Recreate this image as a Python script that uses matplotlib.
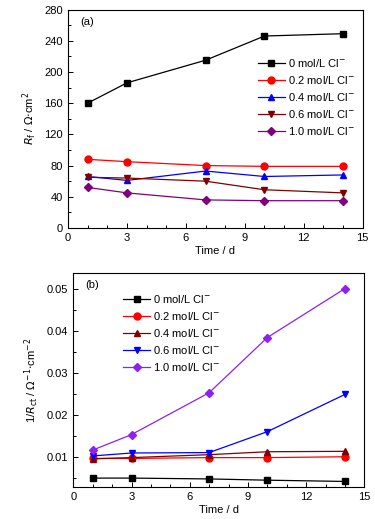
# Rf and 1/Rct vs. immersion time for different Cl- concentrations

import numpy as np
from matplotlib import pyplot as plt
from matplotlib.ticker import MultipleLocator

plt.rcParams['font.family'] = ['Liberation Sans', 'DejaVu Sans']
plt.rcParams['font.size'] = 8

#---- data

days = [1, 3, 7, 10, 14]
conc = ['0', '0.2', '0.4', '0.6', '1.0']

# (a) film resistance, ohm cm2
rf_0 = [160, 186, 215, 246, 249]
rf_02 = [88, 85, 80, 79, 79]
rf_04 = [66, 61, 73, 66, 68]
rf_06 = [65, 64, 60, 49, 45]
rf_10 = [52, 45, 36, 35, 35]

# (b) 1/Rct, ohm-1 cm-2
ict_0 = [0.0049, 0.0049, 0.0047, 0.0044, 0.0041]
ict_02 = [0.0096, 0.0096, 0.0098, 0.0098, 0.0100]
ict_04 = [0.0095, 0.0098, 0.0105, 0.0112, 0.0113]
ict_06 = [0.0102, 0.0109, 0.0110, 0.0160, 0.0249]
ict_10 = [0.0116, 0.0153, 0.0253, 0.0385, 0.0502]

#---- styling helpers

def style_axes(ax):
    ax.set_xlim(0, 15)
    ax.xaxis.set_major_locator(MultipleLocator(3))
    ax.xaxis.set_minor_locator(MultipleLocator(1))
    ax.tick_params(which='both', direction='in', top=False, right=False)
    ax.tick_params(which='major', length=3.5, width=0.7)
    ax.tick_params(which='minor', length=2, width=0.7)
    for s in ax.spines.values():
        s.set_linewidth(0.8)
    ax.set_xlabel('Time / d', labelpad=2)
    return ax

def leg_label(c):
    return c + ' mol/L Cl$^{-}$'

#---- figure

fig = plt.figure(figsize=(3.75, 5.19), dpi=100)
ax1 = fig.add_axes([68/375, 1-228/519, (362.7-68)/375, (228-9.5)/519])
ax2 = fig.add_axes([73.3/375, 1-487.3/519, (364.3-73.3)/375, (487.3-272.7)/519])

ms = 5
top_series = [(rf_0, 'k', 's'), (rf_02, 'red', 'o'), (rf_04, 'blue', '^'),
              (rf_06, '#800000', 'v'), (rf_10, '#800080', 'D')]
for (vals, col, mk), c in zip(top_series, conc):
    ax1.plot(days, vals, marker=mk, color=col, ms=ms if mk != 'D' else 4.3,
             lw=0.9, label=leg_label(c))

ax1.set_ylim(0, 280)
ax1.yaxis.set_major_locator(MultipleLocator(40))
ax1.yaxis.set_minor_locator(MultipleLocator(20))
style_axes(ax1)
ax1.set_ylabel(r'$R_{\rm f}$ / $\Omega{\cdot}$cm$^2$', labelpad=4)
ax1.text(0.04, 0.965, '(a)', transform=ax1.transAxes, va='top', ha='left')
ax1.legend(loc='upper right', bbox_to_anchor=(1.0, 0.82), frameon=False,
           handlelength=2.4, handletextpad=0.3, labelspacing=0.45, borderaxespad=0.3)

bot_series = [(ict_0, 'k', 's'), (ict_02, 'red', 'o'), (ict_04, '#800000', '^'),
              (ict_06, 'blue', 'v'), (ict_10, '#8F20F0', 'D')]
for (vals, col, mk), c in zip(bot_series, conc):
    ax2.plot(days, vals, marker=mk, color=col, ms=ms if mk != 'D' else 4.3,
             lw=0.9, label=leg_label(c))

ax2.set_ylim(0.0027, 0.054)
ax2.yaxis.set_major_locator(MultipleLocator(0.01))
ax2.yaxis.set_minor_locator(MultipleLocator(0.005))
ax2.yaxis.set_major_formatter(plt.FuncFormatter(lambda v, p: '%.2f' % v))
style_axes(ax2)
ax2.set_ylabel(r'1/$R_{\rm ct}$ / $\Omega^{-1}{\cdot}$cm$^{-2}$', labelpad=4)
ax2.text(0.04, 0.965, '(b)', transform=ax2.transAxes, va='top', ha='left')
ax2.legend(loc='upper left', bbox_to_anchor=(0.145, 0.94), frameon=False,
           handlelength=2.4, handletextpad=0.3, labelspacing=0.45, borderaxespad=0.3)

#---- output

plt.savefig('out.png', dpi=100)
